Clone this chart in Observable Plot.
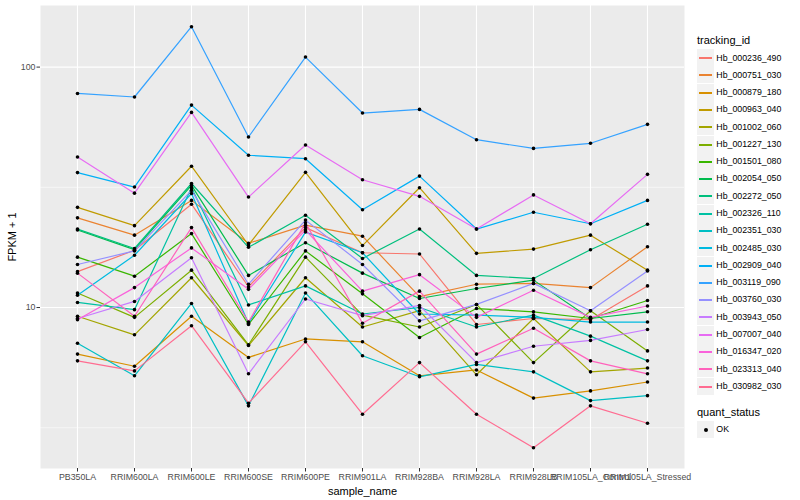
<!DOCTYPE html>
<html><head><meta charset="utf-8">
<script src="https://cdn.jsdelivr.net/npm/d3@7"></script>
<script src="https://cdn.jsdelivr.net/npm/@observablehq/plot@0.6"></script>
<style>
body{margin:0;background:#fff;}
#wrap{position:relative;width:800px;height:500px;font-family:"Liberation Sans",Arial,Helvetica,sans-serif;overflow:hidden;}
#wrap svg g[aria-label$="tick label"]{fill:#4D4D4D;font-size:8.8px;}
#wrap svg g[aria-label$="-axis tick"]{stroke:#333333;}
#wrap svg g[aria-label$="axis label"]{fill:#000;font-size:11px;}
.lg{position:absolute;white-space:nowrap;color:#000;}
</style></head><body><div id="wrap"></div><script>
const samples = ["PB350LA","RRIM600LA","RRIM600LE","RRIM600SE","RRIM600PE","RRIM901LA","RRIM928BA","RRIM928LA","RRIM928LB","RRIM105LA_Control","RRIM105LA_Stressed"];
const trackingIds = ["Hb_000236_490","Hb_000751_030","Hb_000879_180","Hb_000963_040","Hb_001002_060","Hb_001227_130","Hb_001501_080","Hb_002054_050","Hb_002272_050","Hb_002326_110","Hb_002351_030","Hb_002485_030","Hb_002909_040","Hb_003119_090","Hb_003760_030","Hb_003943_050","Hb_007007_040","Hb_016347_020","Hb_023313_040","Hb_030982_030"];
const hb_000236_490 = [14.1, 17.3, 26.9, 12.2, 21.5, 16.9, 16.7, 8.5, 9.0, 8.9, 12.3];
const hb_000751_030 = [23.6, 20.0, 27.9, 18.5, 22.0, 19.8, 11.1, 12.5, 12.6, 12.1, 17.9];
const hb_000879_180 = [6.4, 5.7, 9.2, 6.2, 7.4, 7.2, 5.2, 5.5, 4.2, 4.5, 4.9];
const hb_000963_040 = [26.1, 21.9, 38.7, 18.2, 36.5, 18.1, 31.5, 16.8, 17.5, 20.0, 14.3];
const hb_001002_060 = [9.2, 7.7, 13.3, 6.95, 13.3, 8.3, 9.7, 5.25, 9.0, 5.4, 5.6];
const hb_001227_130 = [11.5, 9.1, 14.3, 7.0, 16.2, 9.3, 8.3, 10.3, 5.9, 9.7, 6.6];
const hb_001501_080 = [16.2, 13.5, 20.3, 8.5, 17.2, 11.4, 7.5, 9.9, 9.6, 9.0, 10.7];
const hb_002054_050 = [21.0, 17.4, 32.2, 13.6, 18.6, 13.9, 10.9, 12.0, 13.0, 9.0, 9.6];
const hb_002272_050 = [21.2, 17.6, 32.8, 17.8, 24.2, 16.0, 21.2, 13.6, 13.2, 17.4, 22.2];
const hb_002326_110 = [10.5, 9.8, 31.5, 10.25, 12.3, 9.4, 10.0, 8.3, 9.3, 7.6, 6.0];
const hb_002351_030 = [7.1, 5.2, 10.4, 3.9, 11.5, 6.3, 5.15, 5.8, 5.4, 4.1, 4.3];
const hb_002485_030 = [11.25, 16.5, 29.8, 8.6, 20.6, 16.9, 9.4, 9.3, 9.1, 8.7, 8.7];
const hb_002909_040 = [36.4, 31.7, 69.5, 43.0, 41.6, 25.5, 35.2, 21.2, 24.9, 22.3, 27.9];
const hb_003119_090 = [77.7, 75.1, 147.2, 51.2, 110.1, 64.4, 66.7, 49.9, 45.9, 48.2, 57.8];
const hb_003760_030 = [15.1, 17.2, 30.7, 12.5, 23.1, 15.1, 8.8, 10.3, 12.6, 9.7, 14.2];
const hb_003943_050 = [9.0, 10.6, 16.1, 5.3, 10.85, 9.25, 10.2, 5.9, 6.9, 7.3, 8.1];
const hb_007007_040 = [42.3, 29.9, 64.8, 28.8, 47.4, 34.0, 29.0, 21.2, 29.4, 22.3, 35.8];
const hb_016347_020 = [8.9, 12.1, 17.7, 11.9, 21.0, 11.7, 13.7, 9.1, 11.8, 9.1, 10.15];
const hb_023313_040 = [13.9, 9.2, 21.5, 8.7, 22.5, 8.6, 11.7, 6.4, 8.2, 6.0, 5.3];
const hb_030982_030 = [6.0, 5.45, 8.4, 4.0, 7.2, 3.6, 5.9, 3.6, 2.61, 3.9, 3.3];
const yTicks = [10, 100];
const yMinor = [3.162, 31.62];
const yDomain = [2.14, 180.4];
const palette = ["#F8766D","#EA8331","#D89000","#C09B00","#A3A500","#7CAE00","#39B600","#00BB4E","#00BF7D","#00C1A3","#00BFC4","#00BAE0","#00B0F6","#35A2FF","#9590FF","#C77CFF","#E76BF3","#FA62DB","#FF62BC","#FF6C91"];

const seriesValues = [hb_000236_490,hb_000751_030,hb_000879_180,hb_000963_040,hb_001002_060,hb_001227_130,hb_001501_080,hb_002054_050,hb_002272_050,hb_002326_110,hb_002351_030,hb_002485_030,hb_002909_040,hb_003119_090,hb_003760_030,hb_003943_050,hb_007007_040,hb_016347_020,hb_023313_040,hb_030982_030];
const rows = [];
trackingIds.forEach((id, i) => seriesValues[i].forEach((v, j) => rows.push({id, sample: samples[j], fpkm: v, quant_status: "OK"})));

const chart = Plot.plot({
  width: 800, height: 500,
  marginLeft: 40, marginRight: 116, marginTop: 5, marginBottom: 32,
  style: {fontFamily: '"Liberation Sans", Arial, Helvetica, sans-serif', fontSize: "8.8px", background: "transparent", color: "#333333"},
  x: {type: "point", domain: samples, padding: 0.6},
  y: {type: "log", domain: yDomain},
  color: {domain: trackingIds, range: palette},
  marks: [
    Plot.frame({fill: "#EBEBEB", stroke: "none"}),
    Plot.ruleY(yMinor, {stroke: "#FFFFFF", strokeWidth: 0.55}),
    Plot.ruleY(yTicks, {stroke: "#FFFFFF", strokeWidth: 1.1}),
    Plot.ruleX(samples, {stroke: "#FFFFFF", strokeWidth: 1.1}),
    Plot.line(rows, {x: "sample", y: "fpkm", z: "id", stroke: "id", strokeWidth: 1.2}),
    Plot.dot(rows, {x: "sample", y: "fpkm", r: 1.8, fill: "#000000", stroke: "none"}),
    Plot.axisX({tickSize: 3.5, tickPadding: 2, label: "sample_name", labelAnchor: "center", labelOffset: 26, labelArrow: "none"}),
    Plot.axisY({ticks: yTicks, tickFormat: d => String(d), tickSize: 3.5, tickPadding: 1.5, label: "FPKM + 1", labelAnchor: "center", labelOffset: 32, labelArrow: "none"})
  ]
});
const wrap = document.getElementById("wrap");
wrap.appendChild(chart);

function addText(txt, x, yc, size) {
  const d = document.createElement("div");
  d.className = "lg";
  d.textContent = txt;
  d.style.left = x + "px";
  d.style.top = (yc - 0.59 * size) + "px";
  d.style.fontSize = size + "px";
  d.style.lineHeight = (1.2 * size) + "px";
  wrap.appendChild(d);
}
function addBox(x, yc) {
  const b = document.createElement("div");
  b.style.cssText = `position:absolute;left:${x}px;top:${Math.round(yc - 8.5)}px;width:17px;height:17px;background:#F2F2F2;`;
  wrap.appendChild(b);
  return b;
}
addText("tracking_id", 697, 40.7, 11);
trackingIds.forEach((id, i) => {
  const yc = 57.7 + i * 17.28;
  const b = addBox(697, yc);
  const ln = document.createElement("div");
  ln.style.cssText = `position:absolute;left:2px;top:8px;width:13px;height:2px;background:${palette[i]};`;
  b.appendChild(ln);
  addText(id, 716.3, yc, 8.8);
});
addText("quant_status", 697, 412.7, 11);
const okBox = addBox(697, 429.3);
const dot = document.createElement("div");
dot.style.cssText = "position:absolute;left:6.5px;top:6.5px;width:4px;height:4px;border-radius:50%;background:#000;";
okBox.appendChild(dot);
addText("OK", 716.3, 429.3, 8.8);
</script></body></html>
